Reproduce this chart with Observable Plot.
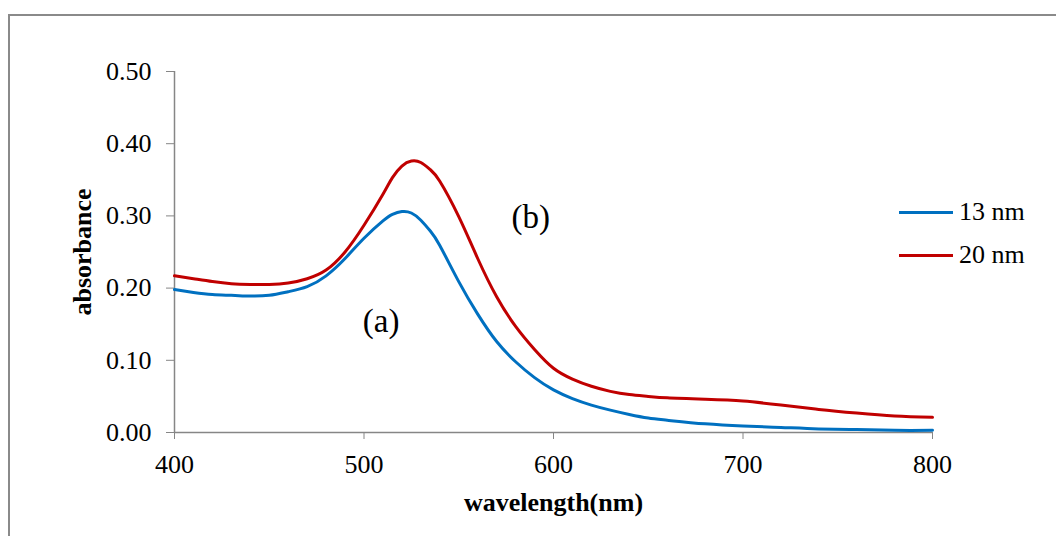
<!DOCTYPE html>
<html>
<head>
<meta charset="utf-8">
<script src="https://cdn.jsdelivr.net/npm/d3@7"></script>
<script src="https://cdn.jsdelivr.net/npm/@observablehq/plot@0.6"></script>
<style>
  body { margin: 0; background: #fff; }
  #wrap { position: relative; width: 1056px; height: 536px; overflow: hidden; font-family: "Liberation Serif", "Times New Roman", serif; }
  #border { position: absolute; left: 8px; top: 14px; width: 1100px; height: 600px; border: 2px solid #8a8a8a; box-sizing: border-box; pointer-events: none; }
  #chart { position: absolute; left: 0; top: 0; }
  #legend { position: absolute; left: 899px; top: 190.5px; font-size: 26px; color: #000; }
  .item { display: flex; align-items: center; height: 43px; white-space: nowrap; }
  .swatch { width: 54px; height: 3px; margin-right: 6px; }
</style>
</head>
<body>
<div id="wrap">
  <div id="chart"></div>
  <div id="legend"></div>
  <div id="border"></div>
</div>
<script>
// Series names and colours
const seriesNames = ["13 nm", "20 nm"];
const seriesColors = ["#0070C0", "#C00000"];

// 13 nm (a)
const wavelength13 = [400, 410, 420, 430, 440, 450, 460, 470, 480, 490, 500, 510, 515, 520, 525, 530, 535, 540, 550, 560, 570, 580, 590, 600, 610, 620, 630, 640, 650, 660, 680, 700, 720, 740, 760, 780, 800];
const absorbance13 = [0.198, 0.194, 0.191, 0.190, 0.189, 0.190, 0.195, 0.202, 0.217, 0.241, 0.269, 0.293, 0.302, 0.306, 0.304, 0.294, 0.279, 0.259, 0.209, 0.164, 0.126, 0.098, 0.076, 0.059, 0.047, 0.038, 0.031, 0.025, 0.020, 0.017, 0.012, 0.009, 0.007, 0.005, 0.004, 0.003, 0.003];

// 20 nm (b)
const wavelength20 = [400, 410, 420, 430, 440, 450, 460, 470, 480, 490, 500, 510, 515, 520, 525, 530, 535, 540, 550, 560, 570, 580, 590, 600, 610, 620, 630, 640, 650, 660, 680, 700, 720, 740, 760, 780, 800];
const absorbance20 = [0.217, 0.213, 0.209, 0.206, 0.205, 0.205, 0.207, 0.213, 0.225, 0.250, 0.287, 0.330, 0.353, 0.369, 0.376, 0.374, 0.364, 0.348, 0.299, 0.241, 0.188, 0.147, 0.115, 0.089, 0.074, 0.064, 0.057, 0.0525, 0.050, 0.048, 0.046, 0.0435, 0.038, 0.032, 0.027, 0.023, 0.021];

// Axes
const xTicks = [400, 500, 600, 700, 800];
const yTicks = [0, 0.1, 0.2, 0.3, 0.4, 0.5];
const xDomain = [400, 800];
const yDomain = [0, 0.5];
const xTitle = "wavelength(nm)";
const yTitle = "absorbance";

// Curve annotations
const annoLabels = ["(a)", "(b)"];
const annoX = [509, 588];
const annoY = [0.154, 0.298];

const rows = [
  ...wavelength13.map((w, i) => ({series: seriesNames[0], w, a: absorbance13[i]})),
  ...wavelength20.map((w, i) => ({series: seriesNames[1], w, a: absorbance20[i]}))
];
const annos = annoLabels.map((t, i) => ({t, x: annoX[i], y: annoY[i]}));

const axisGray = "#868686";
const chart = Plot.plot({
  width: 1056,
  height: 536,
  marginLeft: 174,
  marginRight: 124,
  marginTop: 71,
  marginBottom: 104,
  style: {fontFamily: "'Liberation Serif', 'Times New Roman', serif", fontSize: "26px", background: "transparent", overflow: "visible", color: "#000"},
  x: {domain: xDomain},
  y: {domain: yDomain},
  color: {domain: seriesNames, range: seriesColors},
  marks: [
    Plot.axisY({ticks: yTicks, tickSize: 8, tickPadding: 15, tickFormat: d3.format(".2f"), stroke: axisGray, fill: "#000", label: null, fontSize: 26}),
    Plot.axisX({ticks: xTicks, tickSize: 7, tickPadding: 15, tickFormat: d => String(d), stroke: axisGray, fill: "#000", label: null, fontSize: 26}),
    Plot.ruleX([xDomain[0]], {y1: yDomain[0], y2: yDomain[1], stroke: axisGray, strokeWidth: 1.5}),
    Plot.ruleY([yDomain[0]], {x1: xDomain[0], x2: xDomain[1], stroke: axisGray, strokeWidth: 1.5}),
    Plot.line(rows, {x: "w", y: "a", z: "series", stroke: "series", strokeWidth: 3, curve: "natural"}),
    Plot.text(annos, {x: "x", y: "y", text: "t", fontSize: 33, fill: "#000"}),
    Plot.text([xTitle], {text: d => d, frameAnchor: "bottom", dy: 78, fontWeight: "bold", fontSize: 26, fill: "#000"}),
    Plot.text([yTitle], {text: d => d, frameAnchor: "left", textAnchor: "middle", lineAnchor: "middle", dx: -92, rotate: -90, fontWeight: "bold", fontSize: 26, fill: "#000"})
  ]
});
document.getElementById("chart").appendChild(chart);

const legend = document.getElementById("legend");
seriesNames.forEach((name, i) => {
  const item = document.createElement("div");
  item.className = "item";
  const sw = document.createElement("span");
  sw.className = "swatch";
  sw.style.background = seriesColors[i];
  const label = document.createElement("span");
  label.textContent = name;
  item.appendChild(sw);
  item.appendChild(label);
  legend.appendChild(item);
});
</script>
</body>
</html>
